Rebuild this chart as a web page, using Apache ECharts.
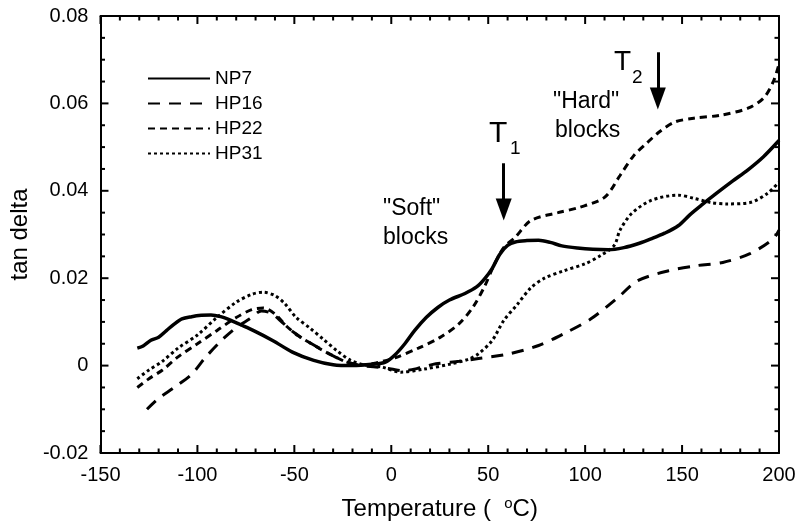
<!DOCTYPE html>
<html>
<head>
<meta charset="utf-8">
<script src="https://cdn.jsdelivr.net/npm/echarts@6/dist/echarts.min.js"></script>
<style>html,body{margin:0;padding:0;background:#fff}#c{width:800px;height:529px}</style>
</head>
<body>
<div id="c"></div>
<script>
// ---- data (temperature °C, tan delta) ----
const seriesNames = ['NP7', 'HP16', 'HP22', 'HP31'];

const np7T = [-131,-128,-124,-120,-116,-112,-108,-103,-98,-93,-88,-83,-78,-71,-61,-51,-40,-30,-20,-10,-3,2,7,12,18,24,30,38,44,48,52,56,60,64,70,76,82,88,96,104,112,120,128,134,141,148,154,160,168,176,184,192,200];
const np7V = [0.004,0.0045,0.0058,0.0065,0.008,0.0095,0.0107,0.0112,0.0115,0.0116,0.0112,0.0104,0.0094,0.008,0.0057,0.0031,0.0012,0.0002,0.0,0.0003,0.0008,0.0025,0.005,0.008,0.011,0.0133,0.015,0.0165,0.018,0.0198,0.0222,0.0255,0.0275,0.0283,0.0286,0.0287,0.0282,0.0274,0.0269,0.0266,0.0265,0.027,0.028,0.029,0.0303,0.032,0.0345,0.0367,0.0395,0.0422,0.0448,0.0478,0.0515];

const hp16T = [-126,-120,-112,-103,-96,-87,-80,-73,-67,-62,-56,-50,-43,-36,-29,-22,-15,-8,0,6,15,23,35,45,61,76,89,103,117,127,143,158,171,185,197,200];
const hp16V = [-0.010,-0.0075,-0.005,-0.002,0.0018,0.006,0.0087,0.0107,0.0125,0.012,0.0098,0.0075,0.0055,0.0037,0.002,0.0007,0.0,-0.0003,-0.0008,-0.0012,-0.0005,0.0004,0.001,0.0016,0.0027,0.0046,0.0073,0.0107,0.0156,0.0194,0.0217,0.0229,0.0236,0.0256,0.029,0.031];

const hp22T = [-131,-125,-118,-110,-100,-90,-80,-72,-66,-60,-54,-48,-42,-35,-28,-22,-15,-8,2,14,25,35,42,48,53,58,64,72,86,97,110,118,125,132,138,146,156,170,184,192,197,200];
const hp22V = [-0.005,-0.003,-0.001,0.002,0.005,0.008,0.011,0.0128,0.0132,0.0118,0.009,0.0068,0.0052,0.0034,0.0018,0.0006,0.0002,0.0006,0.0018,0.004,0.0064,0.0096,0.0133,0.018,0.023,0.027,0.0294,0.0332,0.035,0.0362,0.0385,0.0435,0.048,0.051,0.0534,0.0557,0.0566,0.0573,0.0589,0.0612,0.0649,0.069];

const hp31T = [-131,-125,-118,-110,-100,-90,-80,-72,-66,-60,-55,-49,-42,-35,-28,-21,-14,-5,5,17,31,40,45,52,58,65,72,79,89,100,108,115,118,124,134,148,156,165,173,185,194,200];
const hp31V = [-0.003,-0.001,0.001,0.004,0.007,0.011,0.0145,0.0163,0.0168,0.016,0.0142,0.011,0.0086,0.006,0.0034,0.0012,0.0002,-0.0003,-0.0015,-0.0008,0.0004,0.0015,0.0027,0.0057,0.0103,0.014,0.0178,0.02,0.0217,0.0233,0.0252,0.0275,0.031,0.0348,0.0378,0.039,0.0383,0.0373,0.037,0.0373,0.0394,0.042];

const xTicks = {min: -150, max: 200, interval: 50, minorStep: 10};
const yTicks = {min: -0.02, max: 0.08, interval: 0.02, minorStep: 0.005};

// annotation arrows (data coords)
const t1Arrow = [[58, 0.0463], [58, 0.0357]];
const t2Arrow = [[137.5, 0.0717], [137.5, 0.0611]];

function pairs(t, v) { return t.map((x, i) => [x, v[i]]); }

// tick positions for the frame ticks: [value, isMajor, side] side: 0 bottom, 1 top, 2 left, 3 right
const frameTicks = [];
(function () {
  const nx = Math.round((xTicks.max - xTicks.min) / xTicks.minorStep);
  for (let i = 0; i <= nx; i++) {
    const v = xTicks.min + i * xTicks.minorStep;
    const major = (i % Math.round(xTicks.interval / xTicks.minorStep)) === 0 ? 1 : 0;
    frameTicks.push([v, major, 0], [v, major, 1]);
  }
  const ny = Math.round((yTicks.max - yTicks.min) / yTicks.minorStep);
  for (let i = 0; i <= ny; i++) {
    const v = yTicks.min + i * yTicks.minorStep;
    const major = (i % Math.round(yTicks.interval / yTicks.minorStep)) === 0 ? 1 : 0;
    frameTicks.push([v, major, 2], [v, major, 3]);
  }
})();

const FONT = "'Liberation Sans', Arial, sans-serif";
const chart = echarts.init(document.getElementById('c'));

const styles = {
  NP7: {width: 3.5, type: 'solid'},
  HP16: {width: 3, type: [12, 9]},
  HP22: {width: 3, type: [7, 5]},
  HP31: {width: 3, type: [3, 3]}
};
const dataMap = {NP7: pairs(np7T, np7V), HP16: pairs(hp16T, hp16V), HP22: pairs(hp22T, hp22V), HP31: pairs(hp31T, hp31V)};

const series = seriesNames.map(n => ({
  name: n, type: 'line', data: dataMap[n], showSymbol: false, symbol: 'none', smooth: 0.3,
  lineStyle: {color: '#000', width: styles[n].width, type: styles[n].type},
  itemStyle: {color: '#000'}, animation: false
}));
series[0].markLine = {
  silent: true, animation: false, symbol: ['none', 'triangle'], symbolSize: [16, 22],
  lineStyle: {color: '#000', width: 3, type: 'solid'}, label: {show: false},
  data: [
    [{coord: t1Arrow[0]}, {coord: t1Arrow[1]}],
    [{coord: t2Arrow[0]}, {coord: t2Arrow[1]}]
  ]
};
series.push({
  name: 'frameTicks', type: 'custom', silent: true, animation: false, clip: false, z: 10,
  data: frameTicks,
  renderItem: function (params, api) {
    const v = api.value(0), major = api.value(1), side = api.value(2);
    const len = major ? 8 : 4.5;
    let p, x2, y2;
    if (side === 0) { p = api.coord([v, yTicks.min]); x2 = p[0]; y2 = p[1] - len; }
    else if (side === 1) { p = api.coord([v, yTicks.max]); x2 = p[0]; y2 = p[1] + len; }
    else if (side === 2) { p = api.coord([xTicks.min, v]); x2 = p[0] + len; y2 = p[1]; }
    else { p = api.coord([xTicks.max, v]); x2 = p[0] - len; y2 = p[1]; }
    return {type: 'line', shape: {x1: p[0], y1: p[1], x2: x2, y2: y2},
      style: {stroke: '#000', lineWidth: 2}};
  }
});

function mkLine() { return {show: true, onZero: false, lineStyle: {color: '#000', width: 2}}; }

chart.setOption({
  animation: false,
  grid: {left: 96, right: 21, top: 16, bottom: 76},
  legend: {
    data: seriesNames, orient: 'vertical', left: 147, top: 69, padding: 0,
    itemWidth: 62, itemHeight: 14, itemGap: 6,
    itemStyle: {color: 'rgba(0,0,0,0)', borderWidth: 0, opacity: 0},
    textStyle: {fontFamily: FONT, fontSize: 19, color: '#000', lineHeight: 19}
  },
  xAxis: [{
    type: 'value', min: xTicks.min, max: xTicks.max, interval: xTicks.interval,
    axisLine: mkLine(), axisTick: {show: false}, splitLine: {show: false},
    axisLabel: {fontFamily: FONT, fontSize: 20, color: '#000', margin: 12},
    name: '{a|Temperature (  }{s|o}{a|C)}', nameLocation: 'middle', nameGap: 43,
    nameTextStyle: {fontFamily: FONT, color: '#000', rich: {
      a: {fontFamily: FONT, fontSize: 24, color: '#000'},
      s: {fontFamily: FONT, fontSize: 15, color: '#000', padding: [0, 0, 12, 0]}
    }}
  }, {
    type: 'value', min: xTicks.min, max: xTicks.max, interval: xTicks.interval, position: 'top',
    axisLine: mkLine(), axisTick: {show: false}, splitLine: {show: false}, axisLabel: {show: false}
  }],
  yAxis: [{
    type: 'value', min: yTicks.min, max: yTicks.max, interval: yTicks.interval,
    axisLine: mkLine(), axisTick: {show: false}, splitLine: {show: false},
    axisLabel: {fontFamily: FONT, fontSize: 20, color: '#000', margin: 12,
      formatter: v => Math.abs(v) < 1e-9 ? '0' : (Math.round(v * 100) / 100).toFixed(2)},
    name: 'tan delta', nameLocation: 'middle', nameGap: 64, nameRotate: 90,
    nameTextStyle: {fontFamily: FONT, fontSize: 24, color: '#000'}
  }, {
    type: 'value', min: yTicks.min, max: yTicks.max, interval: yTicks.interval, position: 'right',
    axisLine: mkLine(), axisTick: {show: false}, splitLine: {show: false}, axisLabel: {show: false}
  }],
  series: series,
  graphic: [
    {type: 'text', left: 383, top: 197, style: {text: '"Soft"', font: '23px ' + FONT, fill: '#000'}},
    {type: 'text', left: 383, top: 226, style: {text: 'blocks', font: '23px ' + FONT, fill: '#000'}},
    {type: 'text', left: 553, top: 90, style: {text: '"Hard"', font: '23px ' + FONT, fill: '#000'}},
    {type: 'text', left: 555, top: 119, style: {text: 'blocks', font: '23px ' + FONT, fill: '#000'}},
    {type: 'text', left: 489, top: 119, style: {text: 'T', font: '30px ' + FONT, fill: '#000'}},
    {type: 'text', left: 510, top: 139, style: {text: '1', font: '19px ' + FONT, fill: '#000'}},
    {type: 'text', left: 614, top: 48, style: {text: 'T', font: '28px ' + FONT, fill: '#000'}},
    {type: 'text', left: 632, top: 68, style: {text: '2', font: '19px ' + FONT, fill: '#000'}}
  ]
});
</script>
</body>
</html>
